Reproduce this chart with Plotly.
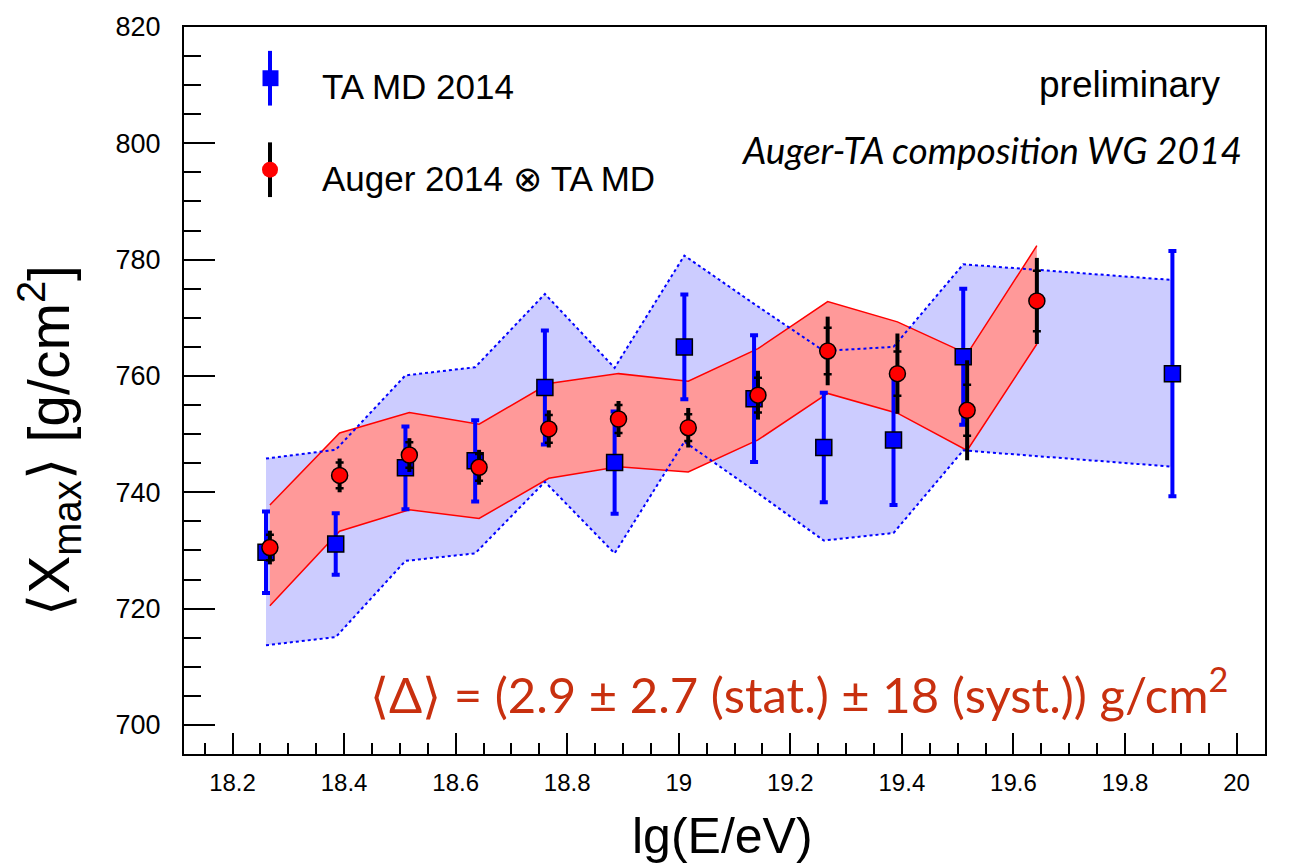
import plotly.graph_objects as go

# ---- data -------------------------------------------------------------
# TA MD 2014 <Xmax> per energy bin
ta_lgE = [18.26, 18.385, 18.51, 18.635, 18.76, 18.885, 19.01, 19.135, 19.26, 19.385, 19.51, 19.885]
ta_xmax = [729.7, 731.1, 744.2, 745.4, 758.0, 745.1, 765.0, 756.1, 747.7, 749.0, 763.3, 760.4]
ta_err = [7.0, 5.3, 7.1, 7.0, 9.8, 8.8, 9.0, 10.9, 9.4, 11.2, 11.7, 21.1]
ta_sys_hi = [745.8, 747.3, 760.1, 761.5, 774.1, 761.4, 780.7, 772.4, 764.3, 765.0, 779.2, 776.5]
ta_sys_lo = [713.7, 715.1, 728.2, 729.5, 741.8, 729.5, 748.7, 740.3, 731.7, 733.0, 747.2, 744.4]

# Auger 2014 folded with the TA MD detector response
au_lgE = [18.267, 18.392, 18.517, 18.642, 18.767, 18.892, 19.017, 19.142, 19.267, 19.392, 19.517, 19.642]
au_xmax = [730.5, 742.9, 746.4, 744.3, 750.9, 752.6, 751.1, 756.7, 764.3, 760.4, 754.1, 772.9]
au_stat = [2.2, 2.2, 2.2, 2.3, 2.4, 2.4, 2.3, 3.0, 4.0, 3.8, 4.4, 5.2]
au_tot = [2.9, 2.9, 2.9, 3.0, 3.2, 3.1, 3.4, 4.2, 5.9, 6.9, 8.6, 7.4]
au_sys_hi = [737.8, 750.2, 753.7, 751.7, 758.7, 760.4, 759.1, 764.7, 772.8, 769.3, 763.8, 782.4]
au_sys_lo = [720.5, 733.3, 737.0, 735.5, 742.4, 744.4, 743.5, 749.0, 757.0, 753.6, 747.2, 765.5]

x_ticks = [18.2, 18.4, 18.6, 18.8, 19.0, 19.2, 19.4, 19.6, 19.8, 20.0]
y_ticks = [700, 720, 740, 760, 780, 800, 820]

# ---- layout geometry (pixels) -----------------------------------------
W, H = 1291, 865
ML, MR, MT, MB = 184, 26, 23, 111
PW, PH = W - ML - MR, H - MT - MB

BLUE = "#0000ff"
RED = "#ff0000"
SANS = "Liberation Sans, Arial, Helvetica, sans-serif"
GILL = "Lato, 'Open Sans', sans-serif"


def px(x):
    return (x - ML) / PW


def py(y):
    return (MT + PH - y) / PH


fig = go.Figure()

# TA systematic band
fig.add_trace(go.Scatter(
    x=ta_lgE + ta_lgE[::-1], y=ta_sys_hi + ta_sys_lo[::-1],
    fill="toself", fillcolor="#ccccff", line=dict(width=0),
    mode="lines", hoverinfo="skip", showlegend=False))

# Auger systematic band
fig.add_trace(go.Scatter(
    x=au_lgE + au_lgE[::-1], y=au_sys_hi + au_sys_lo[::-1],
    fill="toself", fillcolor="#ff9999", line=dict(width=0),
    mode="lines", hoverinfo="skip", showlegend=False))
for edge in (au_sys_hi, au_sys_lo):
    fig.add_trace(go.Scatter(x=au_lgE, y=edge, mode="lines",
                             line=dict(color=RED, width=1.5),
                             hoverinfo="skip", showlegend=False))

# TA band edges (dotted)
for edge in (ta_sys_hi, ta_sys_lo):
    fig.add_trace(go.Scatter(x=ta_lgE, y=edge, mode="lines",
                             line=dict(color=BLUE, width=2, dash="dot"),
                             hoverinfo="skip", showlegend=False))

# TA MD points
fig.add_trace(go.Scatter(
    x=ta_lgE, y=ta_xmax, mode="markers",
    marker=dict(symbol="square", size=16, color=BLUE,
                line=dict(color="black", width=1.5)),
    error_y=dict(type="data", array=ta_err, color=BLUE, thickness=4, width=4),
    name="TA MD 2014", showlegend=False))

# Auger points: total error line, stat ticks, markers
fig.add_trace(go.Scatter(
    x=au_lgE, y=au_xmax, mode="markers", marker=dict(size=1, opacity=0),
    error_y=dict(type="data", array=au_tot, color="black", thickness=4, width=0),
    hoverinfo="skip", showlegend=False))
fig.add_trace(go.Scatter(
    x=au_lgE, y=au_xmax, mode="markers", marker=dict(size=1, opacity=0),
    error_y=dict(type="data", array=au_stat, color="black", thickness=2.5, width=4),
    hoverinfo="skip", showlegend=False))
fig.add_trace(go.Scatter(
    x=au_lgE, y=au_xmax, mode="markers",
    marker=dict(symbol="circle", size=16, color=RED,
                line=dict(color="black", width=1.5)),
    name="Auger 2014 ⊗ TA MD", showlegend=False))

# ---- hand-drawn legend -------------------------------------------------
shapes = []
# TA MD key
shapes.append(dict(type="line", xref="paper", yref="paper",
                   x0=px(270), x1=px(270), y0=py(47), y1=py(102),
                   line=dict(color=BLUE, width=4)))
shapes.append(dict(type="rect", xref="paper", yref="paper",
                   x0=px(262.5), x1=px(278.5), y0=py(66.5), y1=py(82.5),
                   fillcolor=BLUE, line=dict(color=BLUE, width=0)))
# Auger key
shapes.append(dict(type="line", xref="paper", yref="paper",
                   x0=px(270), x1=px(270), y0=py(139), y1=py(194),
                   line=dict(color="black", width=4)))
shapes.append(dict(type="circle", xref="paper", yref="paper",
                   x0=px(262), x1=px(278), y0=py(158.5), y1=py(174.5),
                   fillcolor=RED, line=dict(color=RED, width=0)))

annotations = [
    dict(text="TA MD 2014", x=px(320), y=py(83), xref="paper", yref="paper",
         xanchor="left", yanchor="middle", showarrow=False,
         font=dict(family=SANS, size=35, color="black")),
    dict(text="Auger 2014 ⊗ TA MD", x=px(320), y=py(175), xref="paper", yref="paper",
         xanchor="left", yanchor="middle", showarrow=False,
         font=dict(family=SANS, size=35, color="black")),
    dict(text="preliminary", x=px(1222), y=py(81), xref="paper", yref="paper",
         xanchor="right", yanchor="middle", showarrow=False,
         font=dict(family=SANS, size=37, color="black")),
    dict(text="<i>Auger-TA composition WG 2014</i>", x=px(1244), y=py(146),
         xref="paper", yref="paper", xanchor="right", yanchor="middle",
         showarrow=False, font=dict(family=GILL, size=37, color="black")),
    dict(text="⟨Δ⟩ = (2.9 ± 2.7 (stat.) ± 18 (syst.)) g/cm<sup>2</sup>",
         x=px(1230), y=py(690), xref="paper", yref="paper",
         xanchor="right", yanchor="middle", showarrow=False,
         font=dict(family=GILL, size=49, color="#c8300f")),
    # axis titles
    dict(text="lg(E/eV)", x=px(722), y=py(836), xref="paper", yref="paper",
         xanchor="center", yanchor="middle", showarrow=False,
         font=dict(family=SANS, size=50, color="black")),
    dict(text="⟨X<sub>max</sub>⟩ [g/cm<sup>2</sup>]", x=px(49), y=py(439),
         xref="paper", yref="paper", xanchor="center", yanchor="middle",
         textangle=-90, showarrow=False,
         font=dict(family=SANS, size=57, color="black")),
]

fig.update_layout(
    width=W, height=H, autosize=False,
    margin=dict(l=ML, r=MR, t=MT, b=MB, pad=0),
    paper_bgcolor="white", plot_bgcolor="white",
    shapes=shapes, annotations=annotations,
    showlegend=False,
)

fig.update_xaxes(
    range=[18.113, 20.051], tickmode="array", tickvals=x_ticks,
    ticktext=[f"{v:g}" for v in x_ticks],
    ticks="inside", ticklen=21, tickwidth=1.5, tickcolor="black",
    minor=dict(dtick=0.05, tick0=18.2, ticks="inside", ticklen=11,
               tickwidth=1.5, tickcolor="black", showgrid=False),
    showgrid=False, zeroline=False,
    showline=True, linewidth=2, linecolor="black", mirror=True,
    tickfont=dict(family=SANS, size=24, color="black"),
    ticklabelstandoff=6,
)
fig.update_yaxes(
    range=[695, 820], tickmode="array", tickvals=y_ticks,
    ticks="inside", ticklen=31, tickwidth=1.5, tickcolor="black",
    minor=dict(dtick=5, tick0=700, ticks="inside", ticklen=17,
               tickwidth=1.5, tickcolor="black", showgrid=False),
    showgrid=False, zeroline=False,
    showline=True, linewidth=2, linecolor="black", mirror=True,
    tickfont=dict(family=SANS, size=27, color="black"),
    ticklabelstandoff=16,
)

fig.write_html("out.html")
